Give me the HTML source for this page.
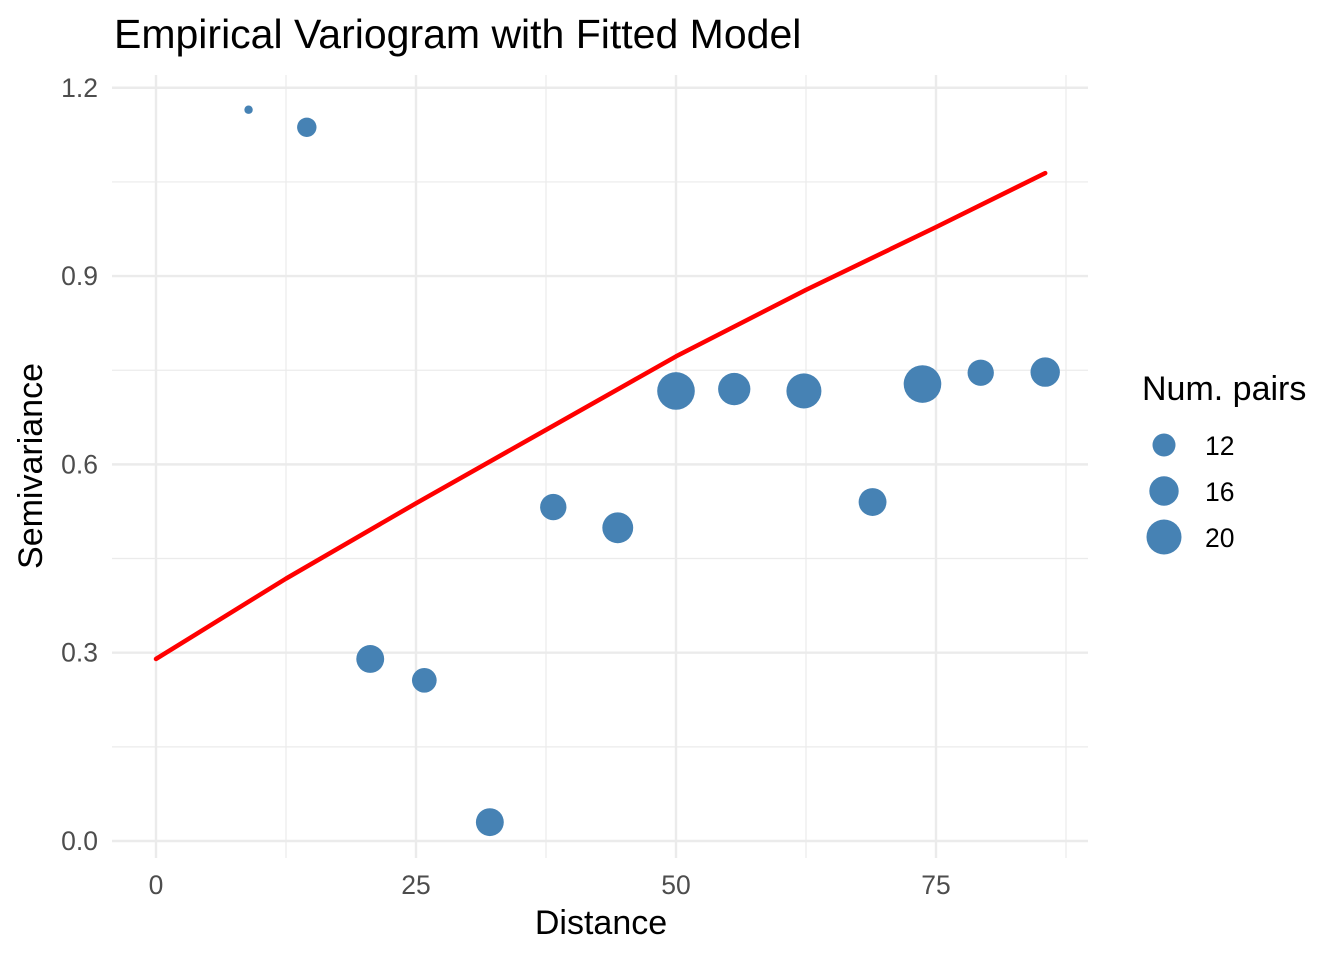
<!DOCTYPE html>
<html><head><meta charset="utf-8"><style>
html,body{margin:0;padding:0;background:#fff;}
svg{display:block;font-family:"Liberation Sans",sans-serif;}
</style></head><body>
<svg id="chart" width="1344" height="960" viewBox="0 0 1344 960">
<text x="114" y="48" font-size="41" fill="#000">Empirical Variogram with Fitted Model</text>
<g id="grid"></g>
<g id="axes"></g>
<g id="series"></g>
<text x="601" y="934" font-size="34" text-anchor="middle" fill="#000">Distance</text>
<text transform="translate(42,466) rotate(-90)" font-size="34" text-anchor="middle" fill="#000">Semivariance</text>
<g id="legend">
<text x="1142" y="400" font-size="34" fill="#000">Num. pairs</text>
</g>
</svg>
<script>
const distances=[8.9,14.5,20.6,25.8,32.1,38.2,44.4,50.0,55.6,62.3,68.9,73.7,79.3,85.5];
const gammas=[1.165,1.137,0.290,0.256,0.030,0.532,0.499,0.717,0.720,0.717,0.540,0.728,0.746,0.747];
const pairs=[5,10,15,13,15,14,17,22,18,20,15,22,14,16];
const lineX=[0,12.5,25,37.5,50,62.5,75,85.5];
const lineY=[0.290,0.418,0.538,0.655,0.772,0.878,0.978,1.064];
const xTicks=[0,25,50,75];
const xMinor=[12.5,37.5,62.5,87.5];
const yTicks=[0,0.3,0.6,0.9,1.2];
const yTickLabels=["0.0","0.3","0.6","0.9","1.2"];
const yMinor=[0.15,0.45,0.75,1.05];
const legendVals=[12,16,20];

const NS="http://www.w3.org/2000/svg";
const X=v=>156+v*10.4;
const Y=v=>841-v*627.7;
const R=n=>5.95*Math.sqrt(n)-9.1;
const L=112,Rt=1088,T=75,B=858;
function mk(tag,attrs,parent){const e=document.createElementNS(NS,tag);for(const k in attrs)e.setAttribute(k,attrs[k]);parent.appendChild(e);return e;}
const grid=document.getElementById('grid'),axes=document.getElementById('axes'),series=document.getElementById('series'),legend=document.getElementById('legend');
yMinor.forEach(v=>{const e=mk('line',{x1:L,x2:Rt,y1:Y(v),y2:Y(v),stroke:'#ebebeb','stroke-width':1.2},grid);

});
xMinor.forEach(v=>{const e=mk('line',{x1:X(v),x2:X(v),y1:T,y2:B,stroke:'#ebebeb','stroke-width':1.2},grid);

});
yTicks.forEach((v,i)=>{const e=mk('line',{x1:L,x2:Rt,y1:Y(v),y2:Y(v),stroke:'#ebebeb','stroke-width':2.4},grid);


const t=mk('text',{x:98,y:Y(v)+9,'font-size':26.5,'text-anchor':'end',fill:'#4d4d4d'},axes);t.textContent=yTickLabels[i];

});
xTicks.forEach(v=>{const e=mk('line',{x1:X(v),x2:X(v),y1:T,y2:B,stroke:'#ebebeb','stroke-width':2.4},grid);


const t=mk('text',{x:X(v),y:894,'font-size':26.5,'text-anchor':'middle',fill:'#4d4d4d'},axes);t.textContent=String(v);

});
distances.forEach((d,i)=>{const c=mk('circle',{cx:X(d),cy:Y(gammas[i]),r:R(pairs[i]),fill:'#4682b4'},series);

});
const pts=lineX.map((x,i)=>X(x)+','+Y(lineY[i])).join(' ');
const ln=mk('polyline',{points:pts,fill:'none',stroke:'#ff0000','stroke-width':4.5,'stroke-linejoin':'round','stroke-linecap':'round'},series);


legendVals.forEach((v,i)=>{const cy=445+i*46;
const c=mk('circle',{cx:1164,cy:cy,r:R(v),fill:'#4682b4'},legend);


const t=mk('text',{x:1205,y:cy+10,'font-size':26.5,fill:'#000'},legend);t.textContent=String(v);

});
</script>
</body></html>
